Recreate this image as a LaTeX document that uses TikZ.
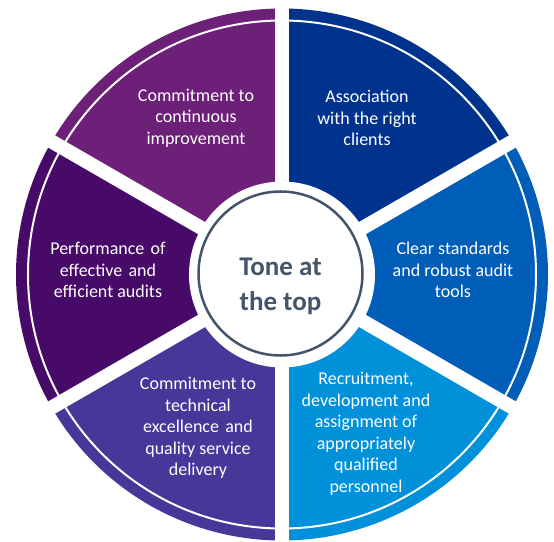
\documentclass[tikz,border=0pt]{standalone}
\usepackage{fontspec}
\setmainfont{Carlito}
\definecolor{cTR}{HTML}{00338D}
\definecolor{cTL}{HTML}{6D2077}
\definecolor{cL}{HTML}{470A68}
\definecolor{cBL}{HTML}{483698}
\definecolor{cBR}{HTML}{0091DA}
\definecolor{cR}{HTML}{005EB8}
\definecolor{hubcol}{HTML}{44546A}
\tikzset{
  lbl/.style={text=white, align=center, inner sep=0pt, font=\fontsize{18}{21.5}\selectfont},
  gap/.style={white, line width=14pt},
}
\begin{document}
\begin{tikzpicture}[x=1pt,y=1pt]
\useasboundingbox (-282,-266.5) rectangle (272,274.5);
\fill[white] (-282,-266.5) rectangle (272,274.5);
\foreach \a/\c in {30/cTR,90/cTL,150/cL,210/cBL,270/cBR,330/cR}{
  \fill[\c] (0,0) -- (\a:266) arc[start angle=\a, end angle=\a+60, radius=266] -- cycle;
}
\draw[gap] (90:280) -- (270:280);
\draw[gap] (30:280) -- (210:280);
\draw[gap] (150:280) -- (330:280);
\draw[white, line width=2pt] (0,0) circle[radius=254];
\fill[white] (0,0) circle[radius=93];
\node[circle, draw=hubcol, line width=2.5pt, fill=white, minimum size=164pt, inner sep=0pt] (hub) at (-1.5,1) {};
\node[text=hubcol, align=center, inner sep=0pt, font=\fontsize{27}{35}\selectfont\bfseries] (tone) at (-1.5,-11.5) {Tone at\\the top};
\node[lbl] (tl) at (-86,156.5) {Commitment to\\continuous\\improvement};
\node[lbl] (tr) at (85,156.5) {Association\\with the right\\clients};
\node[lbl] (l) at (-174,4.5) {Performance\hspace{0.35em}of\\effective\hspace{0.35em}and\\efficient audits};
\node[lbl] (r) at (171,4.5) {Clear standards\\and robust audit\\tools};
\node[lbl] (bl) at (-84,-153.5) {Commitment to\\technical\\excellence\hspace{0.35em}and\\quality service\\delivery};
\node[lbl] (br) at (84,-159.5) {Recruitment,\\development and\\assignment of\\appropriately\\qualified\\personnel};
\end{tikzpicture}
\end{document}
